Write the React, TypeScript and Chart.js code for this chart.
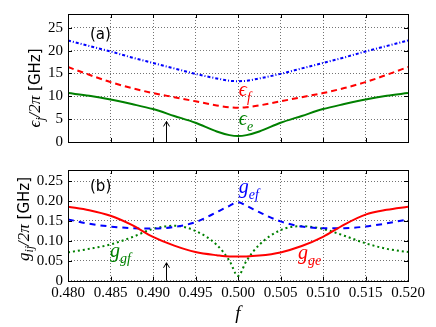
import React, { useEffect, useRef } from "react";
import { Chart, registerables } from "chart.js";
Chart.register(...registerables);

// ---------- data ----------
const F = [0.48, 0.4825, 0.485, 0.4875, 0.49, 0.4925, 0.495, 0.4975, 0.499, 0.5, 0.501, 0.5025, 0.505, 0.5075, 0.51, 0.5125, 0.515, 0.5175, 0.52];
const EPS_H = [22.2, 21.0, 19.8, 18.5, 17.3, 16.1, 14.9, 13.9, 13.4, 13.3, 13.4, 13.9, 14.9, 16.1, 17.3, 18.5, 19.8, 21.0, 22.2];
const EPS_F = [16.4, 14.7, 13.1, 11.8, 10.7, 9.8, 8.9, 8.0, 7.6, 7.5, 7.6, 8.0, 8.9, 9.8, 10.7, 11.8, 13.1, 14.7, 16.4];
const EPS_E = [10.7, 10.1, 9.3, 8.3, 7.2, 5.7, 4.2, 2.3, 1.5, 1.3, 1.5, 2.3, 4.2, 5.7, 7.2, 8.3, 9.3, 10.1, 10.7];
const G_GE = [0.186, 0.177, 0.163, 0.14, 0.11, 0.088, 0.072, 0.064, 0.061, 0.061, 0.061, 0.063, 0.071, 0.087, 0.11, 0.141, 0.166, 0.178, 0.186];
const G_EF = [0.154, 0.143, 0.136, 0.132, 0.131, 0.135, 0.147, 0.172, 0.188, 0.197, 0.188, 0.172, 0.149, 0.136, 0.132, 0.132, 0.136, 0.144, 0.154];
const G_GF = [0.071, 0.08, 0.091, 0.109, 0.13, 0.138, 0.125, 0.09, 0.05, 0.012, 0.05, 0.09, 0.127, 0.137, 0.13, 0.113, 0.094, 0.08, 0.072];

const X_TICKS = [0.48, 0.485, 0.49, 0.495, 0.5, 0.505, 0.51, 0.515, 0.52];
const X_TICK_LABELS = ["0.480", "0.485", "0.490", "0.495", "0.500", "0.505", "0.510", "0.515", "0.520"];
const TOP_Y_TICKS = [0, 5, 10, 15, 20, 25];
const TOP_Y_LABELS = ["0", "5", "10", "15", "20", "25"];
const BOT_Y_TICKS = [0, 0.05, 0.1, 0.15, 0.2, 0.25];
const BOT_Y_LABELS = ["0", "0.05", "0.10", "0.15", "0.20", "0.25"];

const ARROW_F = 0.4915;
const ARROW_TOP_END = 4.5;
const ARROW_BOTTOM_END = 0.045;

// ---------- styles ----------
const SERIF = '"Liberation Serif", "DejaVu Serif", serif';
const SANS = '"DejaVu Sans", sans-serif';
const BLUE = "#0000ff";
const RED = "#ff0000";
const GREEN = "#008000";
const W = 436;
const TOP_H = 156;
const BOT_H = 171;

type Part = { t: string; font: string; dy?: number };

function drawParts(ctx: CanvasRenderingContext2D, x: number, y: number, parts: Part[], color: string, center = false) {
  ctx.fillStyle = color;
  ctx.textBaseline = "alphabetic";
  ctx.textAlign = "left";
  let total = 0;
  for (const p of parts) {
    ctx.font = p.font;
    total += ctx.measureText(p.t).width;
  }
  let cx = center ? x - total / 2 : x;
  for (const p of parts) {
    ctx.font = p.font;
    ctx.fillText(p.t, cx, y + (p.dy || 0));
    cx += ctx.measureText(p.t).width;
  }
}

const mainI = `italic 20px ${SERIF}`;
const subI = `italic 14px ${SERIF}`;

function makeDecor(opts: {
  arrowEnd: number;
  labels: { x: number; y: number; parts: Part[]; color: string }[];
  yTitle: Part[];
  yTitleX: number;
  yTitleCenter: number;
  xTitle?: boolean;
}) {
  return {
    id: "decor",
    afterDatasetsDraw(chart: any) {
      const ctx = chart.ctx as CanvasRenderingContext2D;
      const a = chart.chartArea;
      const xs = chart.scales.x;
      const ys = chart.scales.y;
      ctx.save();
      // frame
      ctx.strokeStyle = "#000";
      ctx.lineWidth = 1;
      ctx.setLineDash([]);
      ctx.strokeRect(Math.round(a.left) + 0.5, Math.round(a.top) + 0.5, Math.round(a.right - a.left), Math.round(a.bottom - a.top));
      // inward ticks
      ctx.beginPath();
      for (const v of X_TICKS) {
        const px = Math.round(xs.getPixelForValue(v)) + 0.5;
        ctx.moveTo(px, a.bottom);
        ctx.lineTo(px, a.bottom - 4);
        ctx.moveTo(px, a.top);
        ctx.lineTo(px, a.top + 4);
      }
      for (const t of ys.ticks) {
        const py = Math.round(ys.getPixelForValue(t.value)) + 0.5;
        ctx.moveTo(a.left, py);
        ctx.lineTo(a.left + 4, py);
        ctx.moveTo(a.right, py);
        ctx.lineTo(a.right - 4, py);
      }
      ctx.stroke();
      // arrow
      const ax = Math.round(xs.getPixelForValue(ARROW_F)) + 0.5;
      const ay0 = ys.getPixelForValue(0);
      const ay1 = ys.getPixelForValue(opts.arrowEnd);
      ctx.beginPath();
      ctx.moveTo(ax, ay0);
      ctx.lineTo(ax, ay1);
      ctx.moveTo(ax - 3, ay1 + 5);
      ctx.lineTo(ax, ay1);
      ctx.lineTo(ax + 3, ay1 + 5);
      ctx.stroke();
      // labels
      for (const l of opts.labels) {
        drawParts(ctx, xs.getPixelForValue(l.x), ys.getPixelForValue(l.y), l.parts, l.color);
      }
      // y title
      ctx.translate(opts.yTitleX, opts.yTitleCenter);
      ctx.rotate(-Math.PI / 2);
      drawParts(ctx, 0, 0, opts.yTitle, "#000", true);
      ctx.restore();
      if (opts.xTitle) {
        ctx.save();
        drawParts(ctx, (a.left + a.right) / 2, a.bottom + 38, [{ t: "f", font: `italic 19px ${SERIF}` }], "#000", true);
        ctx.restore();
      }
    },
  };
}

function gridOpts() {
  return {
    color: "rgba(0,0,0,0.55)",
    lineWidth: 1,
    drawTicks: false,
  };
}

function xScale(showTicks: boolean, height: number) {
  return {
    type: "linear",
    min: 0.48,
    max: 0.52,
    afterBuildTicks: (s: any) => {
      s.ticks = X_TICKS.map((v) => ({ value: v }));
    },
    afterFit: (s: any) => {
      s.height = height;
    },
    grid: gridOpts(),
    border: { display: false, dash: [1, 2] },
    ticks: {
      display: showTicks,
      padding: 3,
      color: "#000",
      font: { family: SERIF, size: 15 },
      maxRotation: 0,
      autoSkip: false,
      callback: (v: number, i: number) => X_TICK_LABELS[i],
    },
  };
}

function yScale(max: number, ticks: number[], labels: string[]) {
  return {
    type: "linear",
    min: 0,
    max,
    afterBuildTicks: (s: any) => {
      s.ticks = ticks.map((v) => ({ value: v }));
    },
    afterFit: (s: any) => {
      s.width = 68;
    },
    grid: gridOpts(),
    border: { display: false, dash: [1, 2] },
    ticks: {
      padding: 5,
      color: "#000",
      font: { family: SERIF, size: 15 },
      autoSkip: false,
      callback: (v: number, i: number) => labels[i],
    },
  };
}

function ds(data: number[], color: string, dash: number[]) {
  return {
    data: F.map((f, i) => ({ x: f, y: data[i] })),
    borderColor: color,
    borderWidth: 2,
    borderDash: dash,
    pointRadius: 0,
    fill: false,
    cubicInterpolationMode: "monotone",
  };
}

export default function App() {
  const topRef = useRef<HTMLCanvasElement>(null);
  const botRef = useRef<HTMLCanvasElement>(null);

  useEffect(() => {
    const top = new Chart(topRef.current!, {
      type: "line",
      data: {
        datasets: [ds(EPS_H, BLUE, [3, 2, 1, 2]), ds(EPS_F, RED, [6, 4]), ds(EPS_E, GREEN, [])] as any,
      },
      options: {
        animation: false,
        responsive: false,
        devicePixelRatio: 1,
        layout: { padding: { left: 0, right: 28, top: 13, bottom: 4 } },
        plugins: { legend: { display: false }, tooltip: { enabled: false } },
        scales: {
          x: xScale(false, 0) as any,
          y: yScale(28, TOP_Y_TICKS, TOP_Y_LABELS) as any,
        },
      },
      plugins: [
        makeDecor({
          arrowEnd: ARROW_TOP_END,
          labels: [
            { x: 0.48259, y: 22.6, parts: [{ t: "(a)", font: `15px ${SANS}` }], color: "#000" },
            { x: 0.5001, y: 10.1, parts: [{ t: "ϵ", font: mainI }, { t: "f", font: subI, dy: 6 }], color: RED },
            { x: 0.5001, y: 3.7, parts: [{ t: "ϵ", font: mainI }, { t: "e", font: subI, dy: 6 }], color: GREEN },
          ],
          yTitle: [
            { t: "ϵ", font: `italic 17px ${SERIF}` },
            { t: "j", font: `italic 12px ${SERIF}`, dy: 4 },
            { t: "/2π", font: `italic 17px ${SERIF}` },
            { t: " [GHz]", font: `15px ${SANS}` },
          ],
          yTitleX: 40,
          yTitleCenter: 88,
        }) as any,
      ],
    });
    const bot = new Chart(botRef.current!, {
      type: "line",
      data: {
        datasets: [ds(G_GE, RED, []), ds(G_EF, BLUE, [6, 5]), ds(G_GF, GREEN, [2, 3])] as any,
      },
      options: {
        animation: false,
        responsive: false,
        devicePixelRatio: 1,
        layout: { padding: { left: 0, right: 28, top: 3, bottom: 0 } },
        plugins: { legend: { display: false }, tooltip: { enabled: false } },
        scales: {
          x: xScale(true, 46.3) as any,
          y: yScale(0.278, BOT_Y_TICKS, BOT_Y_LABELS) as any,
        },
      },
      plugins: [
        makeDecor({
          arrowEnd: ARROW_BOTTOM_END,
          labels: [
            { x: 0.48259, y: 0.2251, parts: [{ t: "(b)", font: `15px ${SANS}` }], color: "#000" },
            { x: 0.5001, y: 0.2205, parts: [{ t: "g", font: mainI }, { t: "ef", font: subI, dy: 6 }], color: BLUE },
            { x: 0.48494, y: 0.0592, parts: [{ t: "g", font: mainI }, { t: "gf", font: subI, dy: 6 }], color: GREEN },
            { x: 0.50706, y: 0.0546, parts: [{ t: "g", font: mainI }, { t: "ge", font: subI, dy: 6 }], color: RED },
          ],
          yTitle: [
            { t: "g", font: `italic 17px ${SERIF}` },
            { t: "ij", font: `italic 12px ${SERIF}`, dy: 4 },
            { t: "/2π", font: `italic 17px ${SERIF}` },
            { t: " [GHz]", font: `15px ${SANS}` },
          ],
          yTitleX: 29,
          yTitleCenter: 219 - TOP_H,
          xTitle: true,
        }) as any,
      ],
    });
    return () => {
      top.destroy();
      bot.destroy();
    };
  }, []);

  return (
    <div style={{ position: "fixed", left: 0, top: 0, width: W, height: TOP_H + BOT_H, background: "#fff" }}>
      <canvas ref={topRef} width={W} height={TOP_H} style={{ position: "absolute", left: 0, top: 0, width: W, height: TOP_H }} />
      <canvas ref={botRef} width={W} height={BOT_H} style={{ position: "absolute", left: 0, top: TOP_H, width: W, height: BOT_H }} />
    </div>
  );
}
